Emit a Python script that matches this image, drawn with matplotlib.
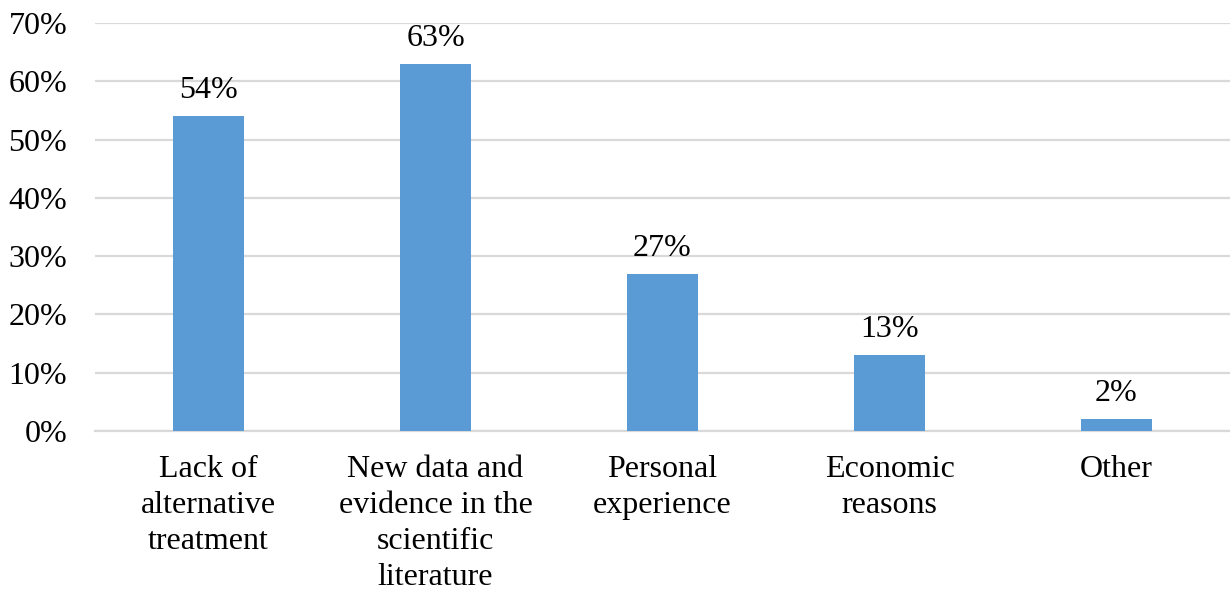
import matplotlib
matplotlib.use("Agg")
import matplotlib.pyplot as plt
from matplotlib.ticker import PercentFormatter

categories = [
    "Lack of\nalternative\ntreatment",
    "New data and\nevidence in the\nscientific\nliterature",
    "Personal\nexperience",
    "Economic\nreasons",
    "Other",
]
values = [54, 63, 27, 13, 2]
y_ticks = [0, 10, 20, 30, 40, 50, 60, 70]

plt.rcParams["font.family"] = ["Liberation Serif", "DejaVu Serif"]

fig = plt.figure(figsize=(12.3, 5.9), dpi=100)
ax = fig.add_axes([95 / 1230, 1 - 431 / 590, 1 - 95 / 1230, (431 - 23) / 590])

x = list(range(len(categories)))
bars = ax.bar(x, values, width=0.31, color="#5B9BD5", zorder=3)

for rect, v in zip(bars, values):
    ax.annotate(f"{v}%", (rect.get_x() + rect.get_width() / 2, v),
                xytext=(0, 8), textcoords="offset points",
                ha="center", va="bottom", fontsize=23, color="black")

ax.set_xlim(-0.5, len(categories) - 0.5)
ax.set_ylim(0, 70)
ax.set_yticks(y_ticks)
ax.yaxis.set_major_formatter(PercentFormatter(decimals=0))
ax.set_xticks(x)
ax.set_xticklabels(categories, fontsize=23, linespacing=1.31, va="top")
ax.tick_params(axis="y", labelsize=23, length=0, pad=20)
ax.tick_params(axis="x", length=0, pad=17.5)

ax.grid(axis="y", color="#D9D9D9", linewidth=1.6, zorder=0)
for s in ["top", "right", "left"]:
    ax.spines[s].set_visible(False)
ax.spines["bottom"].set_color("#D9D9D9")
ax.spines["bottom"].set_linewidth(1.6)

fig.savefig("out.png", dpi=100)
